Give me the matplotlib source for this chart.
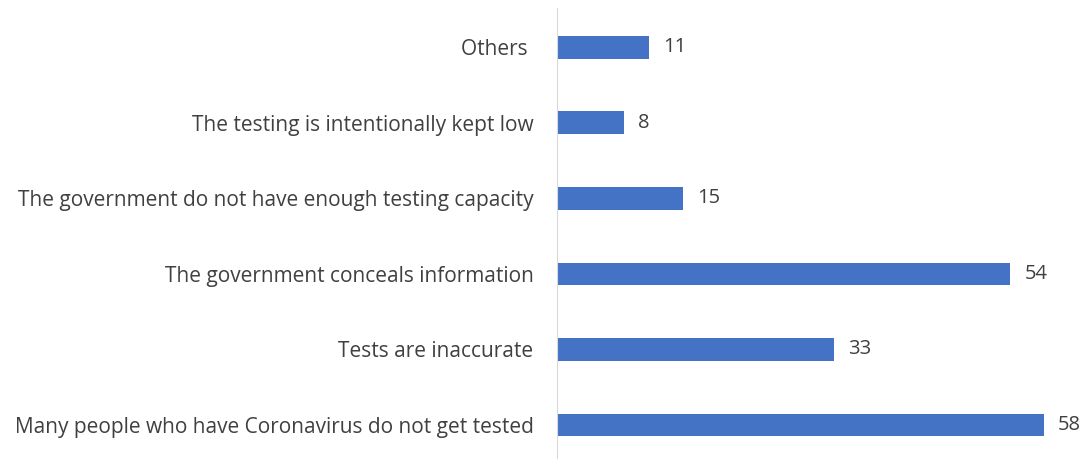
import matplotlib.pyplot as plt

categories = [
    "Many people who have Coronavirus do not get tested",
    "Tests are inaccurate",
    "The government conceals information",
    "The government do not have enough testing capacity",
    "The testing is intentionally kept low",
    "Others ",
]
values = [58, 33, 54, 15, 8, 11]

plt.rcParams['font.family'] = ['Open Sans', 'DejaVu Sans']

fig = plt.figure(figsize=(10.86, 4.59), dpi=100)
ax = fig.add_axes([557 / 1086, 0, 1 - 557 / 1086 - 0.005, 451 / 459])

pos = list(range(len(categories)))
ax.barh(pos, values, height=0.3, color='#4472C4')
for p, v in zip(pos, values):
    ax.text(v + 1.7, p, str(v), va='center', ha='left', fontsize=14.5, color='#404040')

ax.set_yticks(pos)
ax.set_yticklabels(categories, fontsize=15, color='#404040')
ax.tick_params(axis='y', length=0, pad=17)
ax.set_xticks([])
ax.set_xlim(0, 62.4)
ax.set_ylim(-0.45, 5.52)
for s in ['top', 'right', 'bottom']:
    ax.spines[s].set_visible(False)
ax.spines['left'].set_color('#D9D9D9')

fig.savefig('out.png', dpi=100)
